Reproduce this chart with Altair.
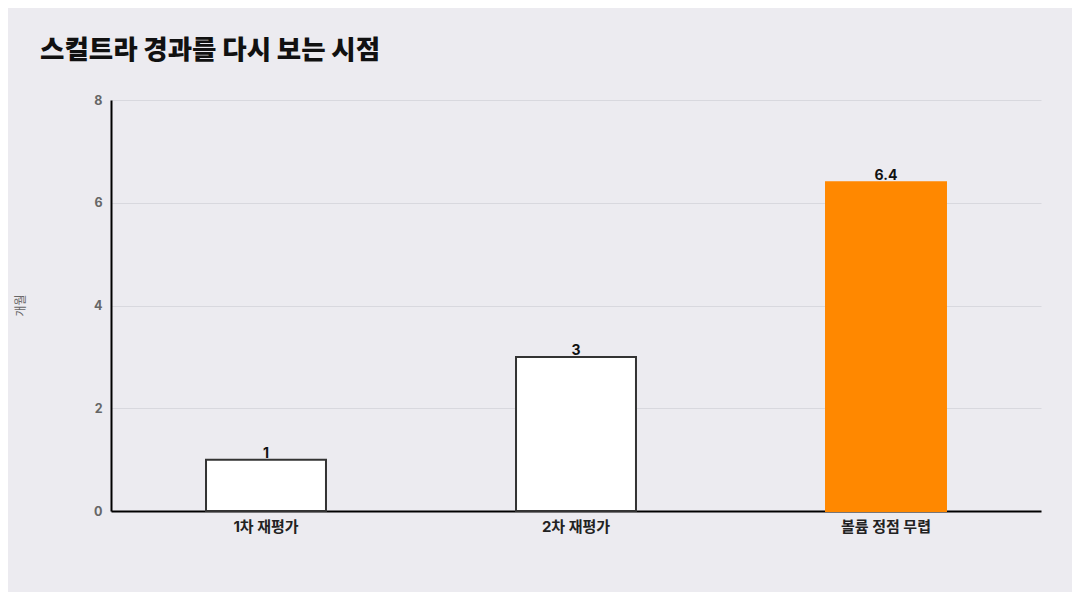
import altair as alt
import pandas as pd

categories = ["1차 재평가", "2차 재평가", "볼륨 정점 무렵"]
values = [1, 3, 6.4]
labels = ["1", "3", "6.4"]
fills = ["#FFFFFF", "#FFFFFF", "#FF8800"]
strokes = ["#333333", "#333333", "#FF8800"]

df = pd.DataFrame({"cat": categories, "val": values, "label": labels,
                   "fill": fills, "stroke": strokes})

FONT = "Inter, Noto Sans CJK KR"

x = alt.X("cat:N", sort=categories, title=None,
          scale=alt.Scale(paddingInner=0.613, paddingOuter=0.3065),
          axis=alt.Axis(labelAngle=0, labelFontSize=15, labelFontWeight="bold",
                        labelColor="#222222", labelPadding=8, ticks=False,
                        domainColor="#000000", domainWidth=2, labelFont=FONT))
y = alt.Y("val:Q", title="개월", scale=alt.Scale(domain=[0, 8]),
          axis=alt.Axis(values=[0, 2, 4, 6, 8], ticks=False, labelPadding=9,
                        labelFontSize=12.5, labelFontWeight="bold", labelColor="#666666",
                        domainColor="#000000", domainWidth=2, gridColor="#D8D8DE",
                        titleFontSize=12, titleFontWeight="normal", titleColor="#666666",
                        titleX=-84, titleY=205, titleAngle=-90, labelFont=FONT, titleFont=FONT))

bars = alt.Chart(df).mark_bar(strokeWidth=2).encode(
    x=x, y=y,
    fill=alt.Fill("fill:N", scale=None),
    stroke=alt.Stroke("stroke:N", scale=None),
)
text = alt.Chart(df).mark_text(baseline="bottom", dy=1, fontSize=14, fontWeight="bold",
                               color="#111111", font=FONT).encode(
    x=alt.X("cat:N", sort=categories), y="val:Q", text="label:N")

chart = (bars + text).properties(
    width=930, height=411,
    autosize=alt.AutoSizeParams(type="none"),
    padding={"left": 103, "top": 92, "right": 31, "bottom": 81},
    background="#ECEBF0",
    title=alt.TitleParams("스컬트라 경과를 다시 보는 시점", anchor="start", frame="group",
                          dx=-71, offset=30, fontSize=26.5, fontWeight=800,
                          color="#111111", font=FONT),
).configure_view(stroke=None)

chart.save("out.html", embed_options={"renderer": "svg", "actions": False})
